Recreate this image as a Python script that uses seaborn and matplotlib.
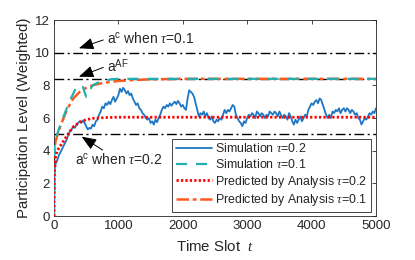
import matplotlib
matplotlib.use('Agg')
import matplotlib.pyplot as plt
import seaborn as sns

# ---- datos ----
t_sim02 = [0, 10] + list(range(25, 5001, 25))
v_sim02 = [0, 3.0,
           3.2, 3.4, 3.7, 3.9, 4.1, 4.3, 4.5, 4.7, 5.0, 5.2,
           5.3, 5.5, 5.4, 5.6, 5.7, 5.8, 5.7, 5.85, 5.7, 5.5,
           5.3, 5.4, 5.35, 5.6, 5.5, 5.8, 5.9, 6.2, 6.4, 6.7,
           6.6, 6.9, 6.8, 7.0, 6.85, 7.1, 7.3, 7.0, 7.2, 7.4,
           7.8, 7.6, 7.85, 7.7, 7.5, 7.65, 7.4, 7.5, 7.2, 7.0,
           6.8, 6.9, 6.6, 6.5, 6.3, 6.2, 6.0, 5.9, 6.0, 5.7,
           5.8, 5.6, 5.9, 5.75, 6.0, 6.2, 6.5, 6.7, 6.6, 6.8,
           6.7, 6.9, 6.75, 6.9, 7.0, 6.85, 7.05, 6.9, 6.7, 6.8,
           6.6, 6.5, 7.2, 7.7, 7.6, 7.5, 7.3, 6.9, 6.5, 6.1,
           6.3, 6.2, 6.4, 6.1, 6.3, 6.0, 5.9, 6.1, 5.8, 5.7,
           5.9, 5.8, 6.0, 5.9, 6.2, 6.5, 6.3, 6.5, 6.4, 6.6,
           6.8, 6.7, 6.2, 6.0, 5.8, 5.7, 5.5, 5.8, 5.7, 6.0,
           6.2, 6.1, 6.3, 6.2, 6.0, 6.4, 6.3, 6.1, 6.3, 6.2,
           6.0, 6.2, 6.1, 6.4, 6.3, 6.2, 6.4, 6.3, 6.1, 6.4,
           6.2, 6.0, 6.2, 6.1, 5.9, 6.3, 6.1, 5.8, 5.6, 5.9,
           5.7, 5.9, 6.1, 5.8, 6.0, 6.2, 6.1, 6.5, 6.7, 6.9,
           6.8, 7.0, 7.1, 6.9, 7.2, 7.1, 6.8, 6.5, 6.2, 6.0,
           6.2, 6.0, 6.4, 6.3, 6.5, 6.4, 6.6, 6.3, 6.5, 6.6,
           6.4, 6.6, 6.5, 6.3, 6.5, 6.4, 6.2, 6.3, 6.0, 5.9,
           5.6, 5.8, 6.0, 5.9, 6.1, 6.3, 6.2, 6.4, 6.3, 6.6]

t_sim01 = [0, 10, 50, 100, 150, 200, 250, 300, 350, 400, 450, 500, 530,
           600, 700, 800, 900, 1000, 5000]
v_sim01 = [0, 4.6, 5.0, 5.6, 6.1, 6.6, 7.1, 7.5, 7.9, 7.8, 7.9, 7.3, 7.5,
           8.0, 8.2, 8.3, 8.38, 8.4, 8.4]

t_pred02 = [0, 5, 25, 50, 100, 150, 200, 250, 300, 400, 500, 600, 800, 1000, 5000]
v_pred02 = [0, 2.5, 3.6, 4.0, 4.3, 4.6, 4.9, 5.2, 5.45, 5.75, 5.9, 5.98, 6.03, 6.05, 6.05]

t_pred01 = [0, 5, 25, 50, 100, 150, 200, 300, 400, 500, 600, 700, 800, 1000,
            1250, 1500, 2000, 5000]
v_pred01 = [0, 4.0, 4.6, 4.9, 5.5, 6.0, 6.5, 7.2, 7.6, 7.85, 8.0, 8.1, 8.17,
            8.27, 8.33, 8.37, 8.4, 8.4]

niveles = [10, 8.4, 5]   # a^c (tau=0.1), a^AF, a^c (tau=0.2)

sns.set_style('white')
plt.rcParams['font.family'] = ['Liberation Sans', 'DejaVu Sans']
plt.rcParams['mathtext.fontset'] = 'custom'
plt.rcParams['mathtext.rm'] = 'Liberation Sans'
plt.rcParams['mathtext.it'] = 'Liberation Serif:italic'

gris = '#262626'
fig = plt.figure(figsize=(4.15, 2.6), dpi=100)
ax = fig.add_axes([0.130, 0.169, 0.776, 0.754])

for y in niveles:
    ax.axhline(y, color='k', lw=1.0, linestyle=(0, (7, 2.5, 1.5, 2.5)), zorder=1)

sns.lineplot(x=t_sim02, y=v_sim02, ax=ax, color='#1f77c4', lw=1.3, sort=False,
             label=r'Simulation $\tau$=0.2', zorder=3)
sns.lineplot(x=t_sim01, y=v_sim01, ax=ax, color='#20b0b0', lw=1.6, sort=False,
             linestyle=(0, (5, 4)), label=r'Simulation $\tau$=0.1', zorder=3)
sns.lineplot(x=t_pred02, y=v_pred02, ax=ax, color='#ff0000', lw=2.0, sort=False,
             linestyle=(0, (0.8, 0.8)), label=r'Predicted by Analysis $\tau$=0.2', zorder=4)
sns.lineplot(x=t_pred01, y=v_pred01, ax=ax, color='#ff5a1e', lw=1.8, sort=False,
             linestyle=(0, (5, 1.5, 1.5, 1.5)), label=r'Predicted by Analysis $\tau$=0.1', zorder=2)

ax.set_xlim(0, 5000)
ax.set_ylim(0, 12)
ax.set_xticks(range(0, 5001, 1000))
ax.set_yticks(range(0, 13, 2))
ax.tick_params(direction='in', length=3, width=0.6, top=True, right=True,
               labelsize=9.5, colors=gris, pad=3)
for s in ax.spines.values():
    s.set_color(gris)
    s.set_linewidth(0.6)

ax.set_xlabel(r'Time Slot  $t$', fontsize=10.8, color=gris, labelpad=5)
ax.set_ylabel('Participation Level (Weighted)', fontsize=10.8, color=gris, labelpad=3)

# flechas y textos
flecha = dict(arrowstyle='-|>,head_width=0.3,head_length=0.75', mutation_scale=12,
              color='k', lw=0.7, shrinkA=0, shrinkB=0)
ax.annotate('', xy=(388, 10.27), xytext=(766, 10.78), arrowprops=flecha)
ax.text(818, 10.57, r'a$^{\rm c}$ when $\tau$=0.1', fontsize=10, va='baseline', ha='left')
ax.annotate('', xy=(388, 8.53), xytext=(766, 9.1), arrowprops=flecha)
ax.text(818, 8.84, r'a$^{\rm AF}$', fontsize=10, va='baseline', ha='left')
ax.annotate('', xy=(430, 4.86), xytext=(756, 4.04), arrowprops=flecha)
ax.text(326, 3.17, r'a$^{\rm c}$ when $\tau$=0.2', fontsize=10, va='baseline', ha='left')

leg = ax.legend(loc='lower right', bbox_to_anchor=(0.985, 0.02), borderaxespad=0,
                fontsize=8.9, handlelength=2.9, handletextpad=0.3, labelspacing=0.22,
                borderpad=0.3, fancybox=False, framealpha=1, edgecolor=gris)
leg.get_frame().set_linewidth(0.6)

fig.savefig('out.png', dpi=100)
